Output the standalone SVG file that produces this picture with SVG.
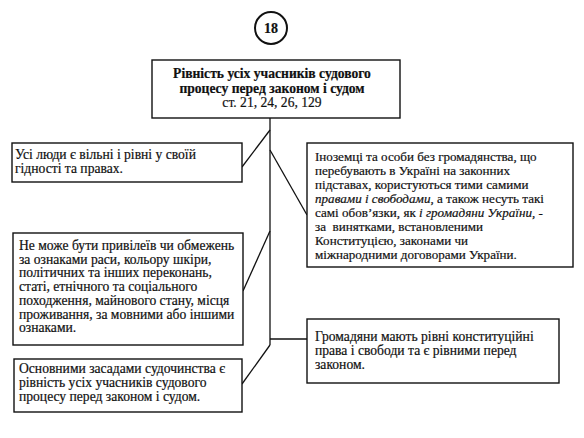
<svg xmlns="http://www.w3.org/2000/svg" width="584" height="438" viewBox="0 0 584 438">
<style>
.box{fill:#fff;stroke:#111;stroke-width:1.4}
text{font-family:'Liberation Serif','DejaVu Serif',serif;font-size:13.6px;fill:#111;stroke:#111;stroke-width:0.2}
.b{font-weight:bold}
.i{font-style:italic}
.s13{font-size:13.1px}
.c{fill:none;stroke:#111;stroke-width:1.3}
</style>
<rect width="584" height="438" fill="#fff"/>
<g id="badge">
<circle cx="271" cy="28" r="16" fill="#fff" stroke="#111" stroke-width="2"/>
<text class="b" x="271" y="33" text-anchor="middle" style="font-size:14px">18</text>
</g>
<g id="connectors">
<path class="c" d="M270 118V345"/>
<path class="c" d="M270 130L242 167"/>
<path class="c" d="M270 150L307 215"/>
<path class="c" d="M270 231L243 291"/>
<path class="c" d="M270 339H307"/>
<path class="c" d="M270 345L242 384"/>
</g>
<g id="main">
<rect class="box" x="152" y="60" width="248" height="58"/>
<text class="b" x="272" y="78" text-anchor="middle">Рівність усіх учасників судового</text>
<text class="b" x="272" y="93" text-anchor="middle">процесу перед законом і судом</text>
<text x="272" y="107" text-anchor="middle">ст. 21, 24, 26, 129</text>
</g>
<g id="left1">
<rect class="box" x="12" y="143" width="230" height="39"/>
<text x="15" y="159">Усі люди є вільні і рівні у своїй</text>
<text x="15" y="173">гідності та правах.</text>
</g>
<g id="left2">
<rect class="box" x="13" y="233" width="230" height="112"/>
<text x="19" y="250">Не може бути привілеїв чи обмежень</text>
<text x="19" y="263.7">за ознаками раси, кольору шкіри,</text>
<text x="19" y="277.4">політичних та інших переконань,</text>
<text x="19" y="291">статі, етнічного та соціального</text>
<text x="19" y="304.8">походження, майнового стану, місця</text>
<text x="19" y="318.5">проживання, за мовними або іншими</text>
<text x="19" y="332">ознаками.</text>
</g>
<g id="left3">
<rect class="box" x="14" y="359" width="228" height="53"/>
<text x="19" y="373">Основними засадами судочинства є</text>
<text x="19" y="387">рівність усіх  учасників судового</text>
<text x="19" y="401">процесу перед законом і судом.</text>
</g>
<g id="right1">
<rect class="box" x="307" y="143" width="266" height="124"/>
<text class="s13" x="315" y="161">Іноземці та особи без громадянства, що</text>
<text class="s13" x="315" y="175">перебувають в Україні на законних</text>
<text class="s13" x="315" y="189">підставах, користуються тими самими</text>
<text class="s13" x="315" y="203"><tspan class="i">правами і свободами</tspan>, а також несуть такі</text>
<text class="s13" x="315" y="217">самі обов’язки, як <tspan class="i">і громадяни України</tspan>, -</text>
<text class="s13" x="315" y="231" xml:space="preserve">за  винятками, встановленими</text>
<text class="s13" x="315" y="245">Конституцією, законами чи</text>
<text class="s13" x="315" y="259">міжнародними договорами України.</text>
</g>
<g id="right2">
<rect class="box" x="307" y="319" width="252" height="64"/>
<text x="315" y="341">Громадяни мають рівні конституційні</text>
<text x="315" y="355">права і свободи та є рівними перед</text>
<text x="315" y="369">законом.</text>
</g>
</svg>
